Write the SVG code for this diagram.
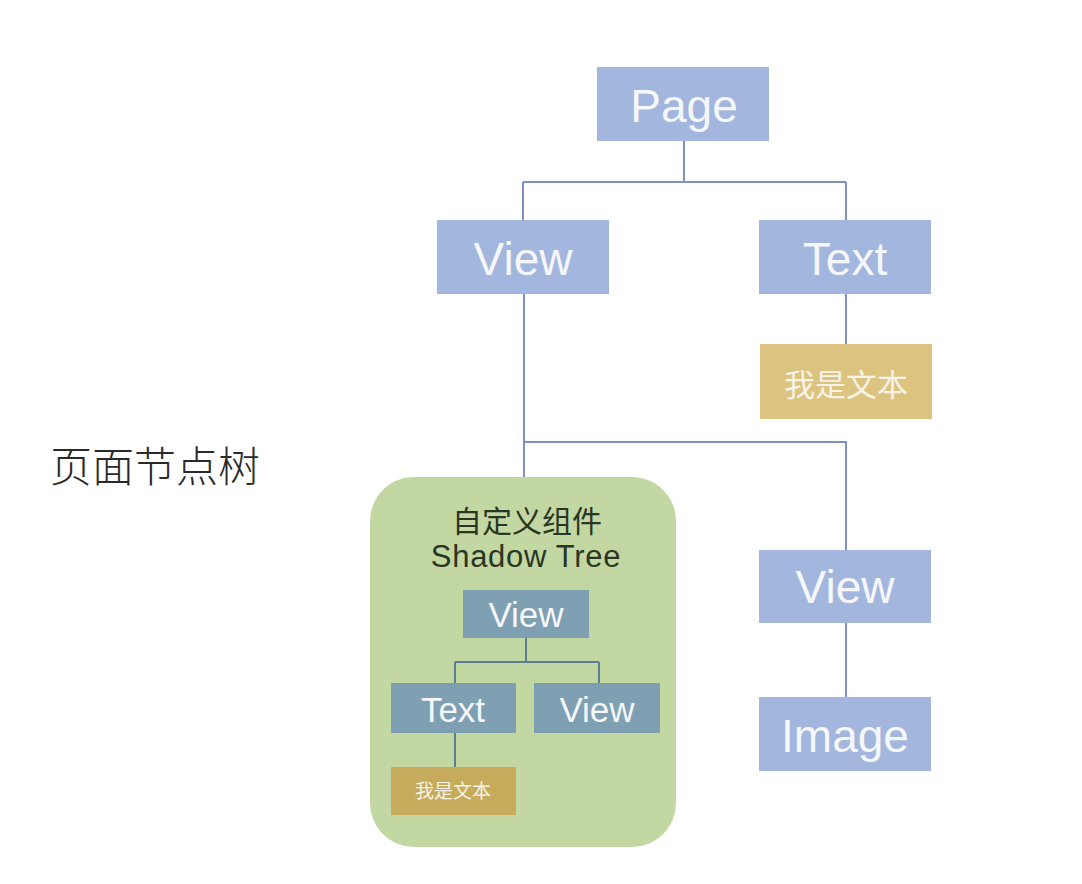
<svg xmlns="http://www.w3.org/2000/svg" width="1082" height="884" viewBox="0 0 1082 884">
<style>
.blue{fill:#a3b6de}
.teal{fill:#7f9fb3}
.yel{fill:#dcc480}
.yel2{fill:#c6ab5c}
.lbl{font-family:"Liberation Sans","Noto Sans CJK SC",sans-serif;fill:#f5f7fb;text-anchor:middle}
.cjk{font-family:"Noto Sans CJK SC",sans-serif;fill:#f7f3e6;text-anchor:middle}
.ln{fill:none;stroke:#8090c6;stroke-width:2}
.ln2{fill:none;stroke:#5e7f92;stroke-width:2}
</style>
<rect width="1082" height="884" fill="#ffffff"/>
<g id="connectors">
<path class="ln" d="M684 141V182M523 182H846M523 182V220M846 182V220"/>
<path class="ln" d="M846 294V344"/>
<path class="ln" d="M524 294V477M524 442H846V550"/>
<path class="ln" d="M846 623V697"/>
</g>
<g id="label-page-tree">
<text x="50" y="482" font-family="Noto Sans CJK SC,sans-serif" font-size="42" font-weight="300" fill="#2a2a2a">页面节点树</text>
</g>
<g id="node-page">
<rect class="blue" x="597" y="67" width="172" height="74"/>
<text class="lbl" x="684" y="122" font-size="46">Page</text>
</g>
<g id="node-view">
<rect class="blue" x="437" y="220" width="172" height="74"/>
<text class="lbl" x="523" y="275" font-size="46">View</text>
</g>
<g id="node-text">
<rect class="blue" x="759" y="220" width="172" height="74"/>
<text class="lbl" x="845" y="275" font-size="46">Text</text>
</g>
<g id="node-text-content">
<rect class="yel" x="760" y="344" width="172" height="75"/>
<text class="cjk" x="846" y="396" font-size="31">我是文本</text>
</g>
<g id="node-view-right">
<rect class="blue" x="759" y="550" width="172" height="73"/>
<text class="lbl" x="845" y="603" font-size="46">View</text>
</g>
<g id="node-image">
<rect class="blue" x="759" y="697" width="172" height="74"/>
<text class="lbl" x="845" y="752" font-size="46">Image</text>
</g>
<g id="node-shadow-tree">
<rect x="370" y="477" width="306" height="370" rx="44" fill="#c3d7a3"/>
<text x="527" y="532" font-family="Noto Sans CJK SC,sans-serif" font-size="30" fill="#2a3624" text-anchor="middle">自定义组件</text>
<text x="526" y="567" font-family="Liberation Sans,sans-serif" font-size="31" letter-spacing="0.7" fill="#2a3624" text-anchor="middle">Shadow Tree</text>
<g id="shadow-connectors">
<path class="ln2" d="M526 638V662M455 662H599M455 662V683M599 662V683M455 733V767"/>
</g>
<g id="shadow-view">
<rect class="teal" x="463" y="590" width="126" height="48"/>
<text class="lbl" x="526" y="627" font-size="35">View</text>
</g>
<g id="shadow-text">
<rect class="teal" x="391" y="683" width="125" height="50"/>
<text class="lbl" x="453" y="722" font-size="35">Text</text>
</g>
<g id="shadow-view2">
<rect class="teal" x="534" y="683" width="126" height="50"/>
<text class="lbl" x="597" y="722" font-size="35">View</text>
</g>
<g id="shadow-text-content">
<rect class="yel2" x="391" y="767" width="125" height="48"/>
<text class="cjk" x="453" y="798" font-size="19">我是文本</text>
</g>
</g>
</svg>
